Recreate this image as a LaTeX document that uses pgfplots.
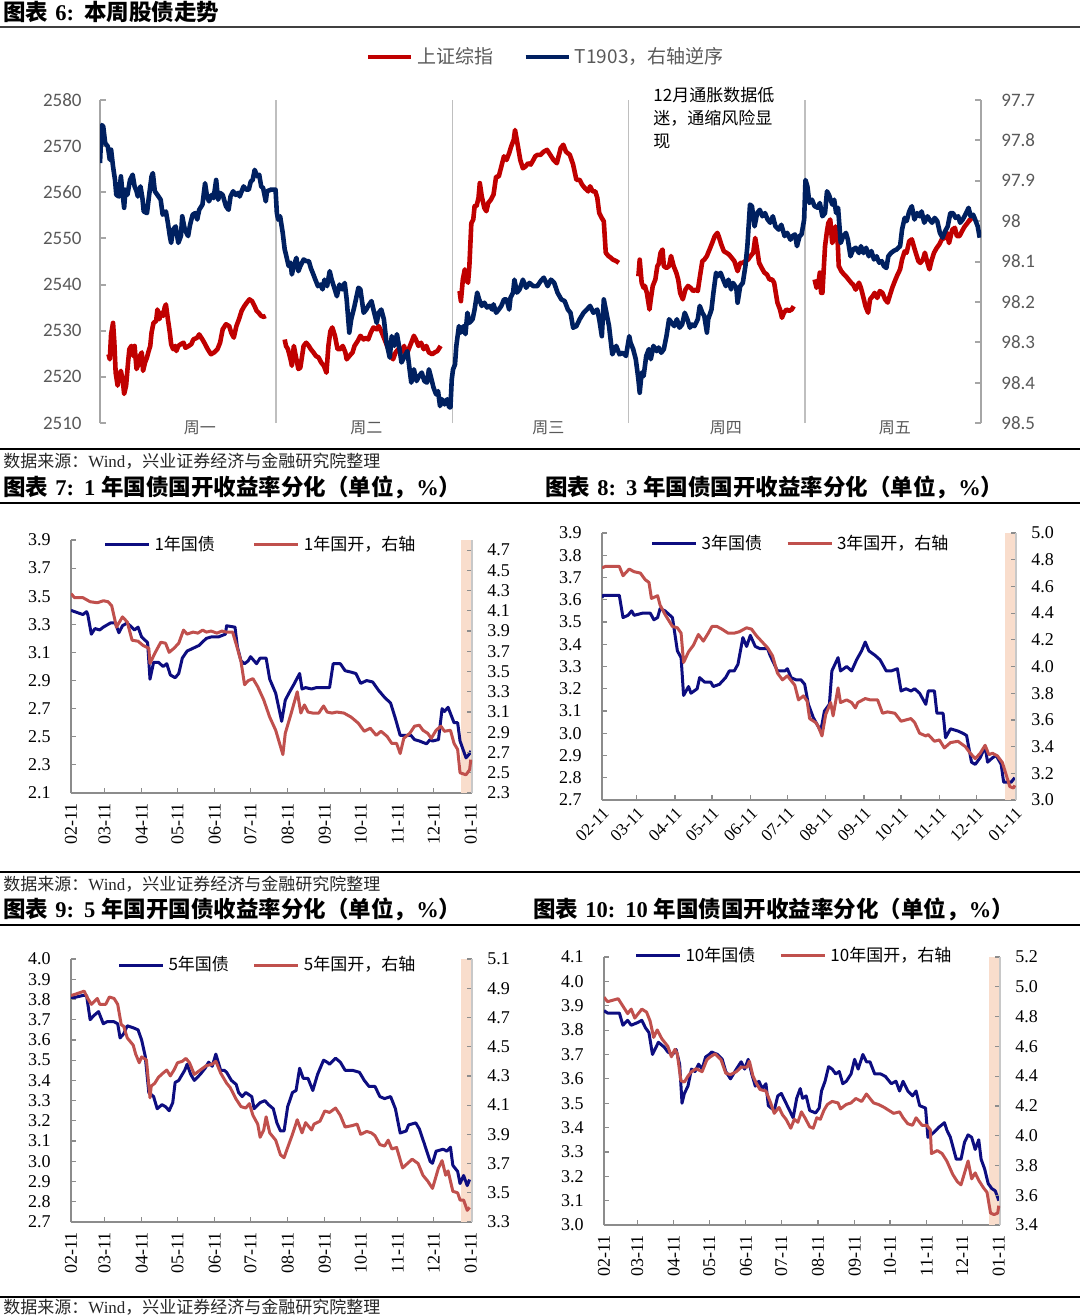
\documentclass[border=0pt]{standalone}
\usepackage{fontspec}
\setmainfont{Liberation Serif}
\newfontfamily\cjk{Noto Sans CJK SC}
\newfontfamily\carlito{Carlito}
\usepackage{pgfplots}
\pgfplotsset{compat=1.18}
\definecolor{sred}{HTML}{C00000}
\definecolor{sblue}{HTML}{002060}
\definecolor{nav}{HTML}{0D0D80}
\definecolor{rd}{HTML}{C0504D}
\definecolor{band}{HTML}{F9DDCC}
\definecolor{tg}{HTML}{595959}
\definecolor{axg}{HTML}{A6A6A6}
\definecolor{sepg}{HTML}{BFBFBF}
\definecolor{axg2}{HTML}{8C8C8C}
\definecolor{axg3}{HTML}{C8C8C8}
\pgfplotsset{
  bondbase/.style={
    scale only axis, anchor=south west,
    xmin=0, xmax=335,
    tick align=inside,
    major tick length=2.5pt,
    tick style={draw=axg2, line width=0.6pt},
    axis line style={draw=axg2, line width=0.75pt},
    tick label style={font=\fontsize{9}{9}\selectfont, inner sep=0pt},
    /pgf/number format/fixed, /pgf/number format/fixed zerofill,
    /pgf/number format/precision=1, /pgf/number format/assume math mode=true,
  },
  bondleft/.style={
    bondbase,
    axis x line*=bottom, axis y line*=left,
    xtick={0,28,59,89,120,150,181,212,242,273,303,334},
    xticklabels={02-11,03-11,04-11,05-11,06-11,07-11,08-11,09-11,10-11,11-11,12-11,01-11},
    yticklabel style={anchor=east, xshift=-10pt},
    legend style={draw=none, fill=none, font=\cjk\fontsize{8.5}{8.5}\selectfont, legend columns=2,
      /tikz/every even column/.append style={column sep=10pt}, anchor=center},
    legend image code/.code={\draw[#1] (0pt,0pt) -- (22pt,0pt);},
  },
  bondright/.style={
    bondbase,
    axis x line=none, axis y line*=right,
    y axis line style={draw=axg3},
    yticklabel style={anchor=west, xshift=7.5pt},
  },
}
\begin{document}
\begin{tikzpicture}
\path[use as bounding box] (0,0) rectangle (540pt,-658pt);
% ---------------- headers and rules ----------------
\node[anchor=west, inner sep=0pt, font=\fontsize{11.25}{11.25}\selectfont\bfseries] at (1.5pt,-6pt)
  {{\cjk 图表}\hspace{3.5pt}6:\hspace{5pt}{\cjk 本周股债走势}};
\draw[line width=1pt, black!75] (0,-13.5pt) -- (540pt,-13.5pt);
\draw[line width=0.75pt, black] (0,-224.5pt) -- (540pt,-224.5pt);
\node[anchor=west, inner sep=0pt, font=\fontsize{8.5}{8.5}\selectfont, text=black!85] at (1.5pt,-230.5pt)
  {{\cjk 数据来源：}Wind{\cjk ，兴业证券经济与金融研究院整理}};
\node[anchor=west, inner sep=0pt, font=\fontsize{11.25}{11.25}\selectfont\bfseries] at (1.5pt,-243.5pt)
  {{\cjk 图表}\hspace{3.5pt}7:\hspace{5pt}1\hspace{3pt}{\cjk 年国债国开收益率分化（单位，}\%{\cjk ）}};
\node[anchor=west, inner sep=0pt, font=\fontsize{11.25}{11.25}\selectfont\bfseries] at (272.5pt,-243.5pt)
  {{\cjk 图表}\hspace{3.5pt}8:\hspace{5pt}3\hspace{3pt}{\cjk 年国债国开收益率分化（单位，}\%{\cjk ）}};
\draw[line width=0.75pt, black] (0,-251.5pt) -- (540pt,-251.5pt);
\draw[line width=0.75pt, black] (0,-436pt) -- (540pt,-436pt);
\node[anchor=west, inner sep=0pt, font=\fontsize{8.5}{8.5}\selectfont, text=black!85] at (1.5pt,-442pt)
  {{\cjk 数据来源：}Wind{\cjk ，兴业证券经济与金融研究院整理}};
\node[anchor=west, inner sep=0pt, font=\fontsize{11.25}{11.25}\selectfont\bfseries] at (1.5pt,-454.5pt)
  {{\cjk 图表}\hspace{3.5pt}9:\hspace{5pt}5\hspace{3pt}{\cjk 年国开国债收益率分化（单位，}\%{\cjk ）}};
\node[anchor=west, inner sep=0pt, font=\fontsize{11.25}{11.25}\selectfont\bfseries] at (266.5pt,-454.5pt)
  {{\cjk 图表}\hspace{3.5pt}10:\hspace{5pt}10\hspace{3pt}{\cjk 年国债国开收益率分化（单位，}\%{\cjk ）}};
\draw[line width=0.75pt, black] (0,-462.5pt) -- (540pt,-462.5pt);
\draw[line width=0.75pt, black] (0,-648.5pt) -- (540pt,-648.5pt);
\node[anchor=west, inner sep=0pt, font=\fontsize{8.5}{8.5}\selectfont, text=black!85] at (1.5pt,-653.5pt)
  {{\cjk 数据来源：}Wind{\cjk ，兴业证券经济与金融研究院整理}};
\node[anchor=north west, inner sep=0pt, align=left, font=\cjk\fontsize{8.5}{11.5}\selectfont] at (326.5pt,-43.5pt)
  {12月通胀数据低\\迷，通缩风险显\\现};
% ---------------- Chart 6 ----------------
\begin{axis}[
  at={(50pt,-211.5pt)}, anchor=south west, scale only axis,
  width=440.5pt, height=161.5pt,
  xmin=0, xmax=1350, ymin=2510, ymax=2580,
  axis y line*=left, axis x line*=bottom,
  x axis line style={draw=none},
  y axis line style={draw=axg, line width=1pt},
  ytick={2510,2520,2530,2540,2550,2560,2570,2580},
  yticklabels={2510,2520,2530,2540,2550,2560,2570,2580},
  tick align=inside, major tick length=3pt,
  ytick style={draw=axg, line width=1pt},
  xtick={153,408,687,959,1218},
  xticklabels={周一,周二,周三,周四,周五},
  xtick style={draw=none},
  xticklabel style={font=\cjk\fontsize{8}{8}\selectfont, text=tg, anchor=north, inner sep=0pt, yshift=1.5pt},
  extra x ticks={270,540,810,1080},
  extra x tick labels={},
  extra x tick style={grid=major, major grid style={draw=sepg, line width=0.75pt}, tick style={draw=none}},
  yticklabel style={font=\carlito\fontsize{9.5}{9.5}\selectfont, text=tg, anchor=east, inner sep=0pt, xshift=-9pt},
  legend style={at={(0.507,1.133)}, anchor=center, draw=none, fill=none, legend columns=2,
    font=\cjk\fontsize{9.5}{9.5}\selectfont, nodes={text=tg},
    /tikz/every even column/.append style={column sep=13pt}},
  legend image code/.code={\draw[#1] (0pt,0pt) -- (21.5pt,0pt);},
]
\addplot[sred, line width=2.3pt, line join=round] coordinates {(13,2524.9)(15,2523.8)(17,2529.2)(20,2531.7)(22,2527.4)(24,2520.9)(27,2518.1)(29,2520.2)(32,2521.3)(35,2519.1)(37,2516.3)(40,2518.1)(43,2523.1)(45,2526.0)(48,2526.7)(51,2524.5)(53,2526.7)(56,2521.7)(58,2522.4)(61,2524.5)(64,2525.3)(66,2521.3)(69,2523.1)(72,2524.2)(74,2525.3)(77,2526.7)(79,2529.6)(82,2531.7)(86,2532.1)(88,2534.6)(91,2532.5)(94,2533.9)(97,2533.2)(99,2535.0)(101,2535.7)(104,2532.5)(107,2529.6)(109,2527.1)(112,2526.0)(115,2526.7)(117,2525.6)(120,2526.7)(124,2527.1)(128,2527.4)(131,2526.3)(136,2526.7)(140,2527.1)(143,2528.1)(149,2528.5)(152,2529.2)(157,2528.1)(161,2527.1)(165,2526.0)(170,2524.9)(175,2525.3)(180,2526.0)(184,2527.4)(188,2530.3)(193,2531.4)(198,2531.0)(201,2529.6)(205,2528.5)(209,2531.0)(213,2532.5)(217,2534.3)(221,2535.3)(225,2536.1)(229,2536.8)(233,2536.4)(237,2535.3)(240,2534.3)(243,2533.9)(247,2533.2)(251,2533.0)(254,2533.2)};
\addlegendentry{上证综指}
\addplot[sred, line width=2.3pt, line join=round, forget plot] coordinates {(283,2528.1)(285,2526.7)(288,2526.0)(292,2523.8)(294,2522.4)(297,2526.7)(301,2523.8)(304,2521.7)(307,2522.0)(312,2526.7)(316,2527.4)(320,2526.7)(323,2526.0)(327,2525.3)(331,2524.5)(335,2524.2)(339,2523.1)(343,2522.4)(347,2520.9)(350,2526.7)(353,2529.9)(356,2530.7)(360,2528.9)(364,2526.0)(368,2526.0)(372,2526.7)(376,2525.3)(378,2523.8)(382,2524.5)(387,2525.3)(390,2526.7)(395,2527.8)(399,2528.9)(404,2528.1)(408,2528.5)(411,2528.1)(415,2529.6)(419,2530.7)(424,2530.3)(427,2531.0)(431,2529.9)(435,2528.5)(440,2526.7)(446,2524.5)(449,2523.8)(453,2525.3)(457,2526.0)(461,2525.3)(466,2526.7)(469,2524.5)(473,2526.0)(477,2527.4)(481,2528.9)(484,2528.1)(488,2526.7)(492,2527.4)(496,2526.0)(500,2526.7)(504,2525.3)(509,2524.9)(513,2525.3)(517,2525.6)(522,2526.7)};
\addplot[sred, line width=2.3pt, line join=round, forget plot] coordinates {(551,2538.6)(553,2536.4)(556,2541.1)(559,2543.3)(561,2541.1)(564,2540.4)(566,2544.0)(569,2553.3)(572,2554.1)(574,2557.0)(577,2557.0)(580,2558.8)(582,2562.0)(585,2559.1)(589,2556.6)(592,2555.9)(595,2557.7)(599,2558.4)(603,2559.5)(607,2563.4)(611,2563.4)(615,2565.6)(619,2567.8)(623,2567.0)(627,2568.5)(630,2569.9)(634,2571.4)(636,2573.5)(640,2570.3)(644,2567.0)(648,2565.2)(652,2565.6)(656,2566.3)(660,2566.0)(664,2567.0)(667,2567.8)(670,2568.1)(675,2568.1)(680,2568.8)(685,2569.2)(690,2568.1)(695,2567.0)(700,2566.3)(706,2569.6)(710,2570.3)(714,2568.8)(720,2568.1)(725,2566.0)(730,2562.7)(735,2562.7)(739,2561.6)(743,2560.9)(748,2560.2)(751,2561.3)(755,2560.2)(759,2560.2)(762,2558.8)(765,2555.5)(769,2554.4)(772,2553.7)(775,2546.9)(779,2546.2)(783,2545.8)(786,2545.4)(791,2545.1)(795,2544.7)};
\addplot[sred, line width=2.3pt, line join=round, forget plot] coordinates {(825,2541.8)(827,2545.4)(830,2540.4)(833,2539.3)(835,2539.7)(838,2538.2)(842,2534.6)(844,2536.8)(847,2539.7)(851,2541.1)(854,2544.0)(856,2544.4)(859,2546.9)(862,2547.6)(864,2544.0)(868,2543.6)(872,2544.0)(875,2546.2)(879,2544.0)(883,2542.6)(886,2541.1)(889,2538.2)(893,2536.8)(897,2538.9)(901,2539.7)(905,2539.3)(909,2538.6)(913,2538.9)(916,2538.6)(919,2541.5)(923,2545.1)(926,2545.4)(930,2546.2)(934,2547.6)(938,2549.0)(942,2550.5)(946,2551.2)(948,2550.5)(952,2548.7)(956,2547.2)(960,2546.9)(964,2546.5)(968,2545.8)(972,2545.1)(977,2542.9)(981,2544.7)(985,2544.7)(989,2545.1)(993,2545.4)(997,2546.2)(1001,2546.9)(1004,2550.1)(1007,2547.6)(1010,2544.7)(1014,2543.6)(1018,2542.6)(1022,2542.2)(1026,2541.1)(1030,2541.1)(1033,2540.4)(1038,2536.1)(1042,2534.6)(1045,2532.8)(1048,2533.9)(1052,2534.6)(1056,2534.3)(1060,2534.6)(1063,2535.3)};
\addplot[sred, line width=2.3pt, line join=round, forget plot] coordinates {(1095,2541.1)(1098,2539.3)(1101,2540.4)(1103,2542.6)(1105,2538.2)(1107,2538.2)(1109,2543.3)(1111,2548.3)(1114,2551.6)(1116,2553.3)(1119,2554.1)(1122,2549.0)(1124,2549.8)(1127,2552.6)(1130,2550.5)(1132,2544.0)(1136,2542.9)(1140,2542.2)(1143,2541.8)(1147,2541.1)(1151,2540.4)(1154,2540.0)(1158,2538.9)(1163,2540.4)(1166,2539.3)(1170,2537.1)(1173,2535.3)(1177,2533.9)(1180,2536.8)(1184,2537.5)(1187,2538.2)(1191,2537.1)(1195,2538.6)(1199,2538.2)(1203,2536.8)(1207,2536.1)(1210,2537.5)(1214,2539.3)(1217,2540.4)(1221,2541.8)(1226,2543.3)(1229,2545.4)(1233,2547.2)(1236,2546.9)(1240,2549.4)(1244,2549.8)(1247,2548.3)(1250,2546.9)(1254,2545.1)(1257,2544.7)(1261,2545.4)(1264,2546.9)(1268,2544.7)(1271,2543.3)(1274,2545.1)(1278,2546.9)(1282,2547.9)(1286,2548.7)(1290,2549.8)(1294,2550.1)(1298,2551.2)(1301,2549.0)(1306,2551.9)(1310,2552.3)(1313,2550.5)(1317,2550.5)(1321,2551.6)(1325,2552.6)(1329,2553.3)(1333,2554.1)(1336,2553.7)};
\addlegendimage{sblue, line width=2.3pt}
\addlegendentry{T1903，右轴逆序}
\end{axis}
\begin{axis}[
  at={(50pt,-211.5pt)}, anchor=south west, scale only axis,
  width=440.5pt, height=161.5pt,
  xmin=0, xmax=1350, ymin=97.7, ymax=98.5, y dir=reverse,
  axis x line=none, axis y line*=right,
  y axis line style={draw=axg, line width=1pt},
  ytick={97.7,97.8,97.9,98,98.1,98.2,98.3,98.4,98.5},
  yticklabels={97.7,97.8,97.9,98,98.1,98.2,98.3,98.4,98.5},
  tick align=inside, major tick length=3pt,
  ytick style={draw=axg, line width=1pt},
  yticklabel style={font=\carlito\fontsize{9.5}{9.5}\selectfont, text=tg, anchor=west, inner sep=0pt, xshift=10pt},
]
\addplot[sblue, line width=2.3pt, line join=round] coordinates {(0,97.856)(2,97.782)(3,97.762)(5,97.766)(8,97.807)(12,97.815)(15,97.848)(17,97.823)(20,97.865)(23,97.898)(25,97.935)(29,97.939)(32,97.889)(34,97.922)(37,97.967)(39,97.922)(42,97.935)(46,97.898)(50,97.885)(53,97.914)(56,97.926)(58,97.939)(62,97.914)(65,97.943)(67,97.976)(72,97.980)(75,97.939)(79,97.889)(81,97.881)(84,97.926)(88,97.935)(93,97.947)(96,97.984)(101,97.976)(104,98.004)(107,98.037)(109,98.054)(112,98.021)(116,98.013)(120,98.054)(124,98.037)(126,97.988)(130,98.021)(135,98.037)(138,98.009)(142,97.984)(146,97.980)(149,97.996)(152,97.972)(157,97.959)(161,97.906)(164,97.939)(167,97.951)(171,97.935)(174,97.943)(178,97.898)(181,97.947)(184,97.930)(188,97.935)(193,97.963)(197,97.972)(200,97.939)(204,97.926)(208,97.935)(212,97.930)(214,97.939)(220,97.914)(224,97.922)(228,97.922)(231,97.902)(234,97.898)(237,97.873)(241,97.889)(244,97.885)(247,97.914)(250,97.918)(254,97.951)(256,97.926)(262,97.922)(267,97.922)(269,97.922)(271,97.980)(273,97.996)(276,97.988)(280,98.029)(283,98.070)(285,98.083)(289,98.111)(292,98.103)(294,98.132)(297,98.111)(301,98.091)(304,98.124)(307,98.111)(312,98.095)(316,98.099)(320,98.099)(323,98.116)(326,98.128)(330,98.145)(334,98.161)(338,98.157)(341,98.169)(344,98.145)(348,98.161)(352,98.124)(355,98.145)(359,98.165)(363,98.186)(367,98.157)(371,98.169)(375,98.153)(378,98.194)(382,98.276)(385,98.243)(390,98.210)(396,98.165)(399,98.169)(404,98.227)(408,98.219)(411,98.210)(416,98.198)(419,98.219)(424,98.252)(427,98.227)(431,98.219)(435,98.243)(439,98.301)(444,98.338)(447,98.285)(451,98.309)(455,98.280)(459,98.317)(462,98.350)(467,98.334)(471,98.322)(475,98.375)(477,98.400)(481,98.367)(485,98.396)(489,98.384)(493,98.375)(497,98.396)(501,98.400)(504,98.367)(508,98.392)(511,98.412)(515,98.429)(518,98.421)(521,98.458)(524,98.441)(528,98.454)(532,98.441)(535,98.461)(537,98.461)(539,98.392)(541,98.367)(544,98.355)(546,98.309)(550,98.260)(553,98.276)(557,98.260)(560,98.280)(563,98.227)(566,98.252)(571,98.243)(574,98.219)(578,98.177)(581,98.194)(585,98.210)(589,98.202)(593,98.214)(597,98.210)(601,98.219)(603,98.206)(607,98.227)(611,98.219)(615,98.210)(619,98.194)(623,98.194)(627,98.219)(629,98.190)(633,98.177)(635,98.145)(639,98.177)(643,98.169)(648,98.145)(653,98.165)(658,98.153)(664,98.161)(670,98.161)(675,98.149)(680,98.140)(686,98.161)(691,98.145)(696,98.153)(701,98.177)(707,98.194)(712,98.198)(717,98.219)(721,98.227)(725,98.264)(730,98.260)(735,98.243)(741,98.227)(746,98.219)(751,98.210)(756,98.227)(762,98.219)(765,98.243)(769,98.285)(772,98.194)(776,98.227)(780,98.260)(785,98.330)(791,98.309)(796,98.330)(801,98.326)(806,98.334)(811,98.285)(813,98.301)(817,98.317)(821,98.342)(825,98.392)(827,98.425)(830,98.375)(833,98.384)(837,98.334)(841,98.317)(844,98.342)(848,98.309)(853,98.322)(856,98.313)(860,98.326)(864,98.317)(868,98.285)(872,98.243)(876,98.252)(880,98.260)(884,98.243)(888,98.264)(892,98.256)(896,98.227)(900,98.243)(904,98.264)(907,98.256)(911,98.260)(916,98.243)(919,98.210)(923,98.227)(926,98.235)(930,98.276)(932,98.243)(937,98.219)(940,98.177)(944,98.128)(947,98.136)(951,98.128)(955,98.145)(959,98.161)(963,98.145)(967,98.169)(970,98.153)(975,98.165)(977,98.202)(981,98.161)(985,98.153)(989,98.111)(992,98.062)(996,97.959)(999,97.963)(1003,98.013)(1007,97.980)(1011,97.972)(1015,97.988)(1019,97.980)(1023,97.996)(1027,98.004)(1031,97.988)(1035,98.013)(1040,98.021)(1044,98.009)(1049,98.037)(1053,98.029)(1058,98.046)(1061,98.037)(1065,98.033)(1068,98.062)(1072,98.037)(1075,98.033)(1079,97.996)(1081,97.898)(1084,97.914)(1087,97.955)(1091,97.947)(1095,97.963)(1100,97.967)(1103,97.955)(1107,97.988)(1111,97.980)(1114,97.926)(1117,97.935)(1122,97.959)(1125,97.947)(1128,97.980)(1131,97.967)(1135,98.054)(1138,98.041)(1143,98.029)(1146,98.046)(1150,98.087)(1154,98.070)(1158,98.066)(1163,98.079)(1166,98.062)(1170,98.079)(1174,98.066)(1178,98.087)(1182,98.074)(1186,98.095)(1190,98.087)(1194,98.103)(1198,98.099)(1201,98.111)(1205,98.116)(1208,98.087)(1212,98.079)(1216,98.074)(1221,98.070)(1226,98.062)(1229,98.021)(1233,97.992)(1236,98.000)(1240,97.976)(1244,97.963)(1248,97.996)(1252,97.980)(1256,97.988)(1259,97.976)(1263,98.004)(1268,97.988)(1271,97.996)(1275,98.004)(1279,97.992)(1283,98.000)(1287,98.029)(1291,98.041)(1295,98.025)(1299,98.013)(1303,97.980)(1307,97.980)(1311,97.992)(1315,97.988)(1318,98.004)(1322,97.996)(1326,97.984)(1331,97.967)(1334,97.988)(1338,97.984)(1341,97.996)(1345,98.013)(1348,98.041)};
\end{axis}
% ---------------- Chart 7 ----------------
\begin{axis}[bondleft, at={(35.5pt,-396.5pt)}, width=200.5pt, height=126.5pt,
  ymin=2.1, ymax=3.9, ytick={2.1,2.3,2.5,2.7,2.9,3.1,3.3,3.5,3.7,3.9},
  xticklabel style={yshift=-5pt, rotate=90, anchor=east},
  legend style={at={(0.475,0.982)}, /tikz/every even column/.append style={column sep=17pt}}]
\addplot[draw=none, fill=band, forget plot] coordinates {(326,2.1)(335,2.1)(335,3.9)(326,3.9)};
\addplot[nav, line width=1.5pt, line join=round] coordinates {(0,3.40)(3,3.39)(10,3.37)(13,3.39)(14,3.37)(17,3.23)(20,3.27)(24,3.26)(27,3.28)(33,3.31)(37,3.31)(40,3.24)(43,3.29)(47,3.31)(53,3.26)(56,3.28)(59,3.21)(64,3.17)(66,2.91)(69,3.03)(73,3.03)(77,3.00)(80,3.02)(83,2.94)(87,2.92)(90,2.95)(93,3.06)(97,3.11)(102,3.13)(107,3.15)(113,3.20)(117,3.21)(123,3.21)(129,3.23)(130,3.29)(137,3.28)(139,3.14)(142,3.04)(145,3.02)(148,3.04)(150,3.07)(155,3.02)(158,3.06)(163,3.06)(166,2.91)(171,2.81)(176,2.61)(179,2.76)(182,2.81)(186,2.87)(191,2.95)(193,2.84)(196,2.85)(201,2.84)(205,2.85)(211,2.85)(216,2.85)(219,3.02)(225,3.02)(229,2.97)(234,2.96)(238,2.95)(242,2.88)(247,2.90)(252,2.89)(257,2.83)(262,2.78)(267,2.74)(271,2.63)(275,2.51)(280,2.51)(284,2.51)(287,2.48)(291,2.47)(297,2.45)(300,2.48)(302,2.47)(307,2.48)(310,2.70)(312,2.68)(315,2.71)(320,2.60)(323,2.60)(325,2.47)(330,2.35)(333,2.38)(334,2.40)};
\addlegendentry{1年国债}
\addlegendimage{rd, line width=1.5pt}
\addlegendentry{1年国开，右轴}
\end{axis}
\begin{axis}[bondright, at={(35.5pt,-396.5pt)}, width=200.5pt, height=126.5pt,
  ymin=2.3, ymax=4.8, ytick={2.3,2.5,2.7,2.9,3.1,3.3,3.5,3.7,3.9,4.1,4.3,4.5,4.7}]
\addplot[rd, line width=1.5pt, line join=round] coordinates {(0,4.27)(3,4.23)(10,4.23)(16,4.19)(22,4.18)(27,4.20)(31,4.19)(34,4.15)(38,3.94)(43,4.04)(47,3.99)(51,3.81)(56,3.80)(60,3.76)(65,3.73)(66,3.58)(70,3.68)(75,3.79)(79,3.78)(82,3.69)(86,3.73)(90,3.78)(94,3.91)(97,3.87)(102,3.89)(106,3.88)(110,3.91)(113,3.89)(117,3.90)(122,3.88)(126,3.90)(130,3.89)(135,3.89)(139,3.73)(142,3.60)(145,3.37)(148,3.41)(152,3.43)(156,3.35)(161,3.22)(166,3.05)(171,2.92)(175,2.76)(177,2.68)(179,2.89)(184,3.09)(189,3.30)(192,3.09)(195,3.17)(198,3.10)(202,3.09)(207,3.09)(211,3.16)(214,3.10)(218,3.09)(222,3.10)(228,3.09)(234,3.05)(240,2.99)(245,2.91)(250,2.94)(255,2.87)(259,2.91)(264,2.86)(268,2.79)(272,2.79)(275,2.69)(278,2.84)(283,2.89)(287,2.96)(291,2.97)(294,2.92)(298,2.89)(301,2.84)(305,2.92)(309,2.96)(312,2.91)(317,2.92)(320,2.79)(323,2.73)(325,2.50)(330,2.48)(333,2.53)(334,2.63)};
\end{axis}
% ---------------- Chart 8 ----------------
\begin{axis}[bondleft, at={(301pt,-400pt)}, width=207pt, height=133.5pt,
  ymin=2.7, ymax=3.9, ytick={2.7,2.8,2.9,3.0,3.1,3.2,3.3,3.4,3.5,3.6,3.7,3.8,3.9},
  xticklabel style={font=\fontsize{8.5}{8.5}\selectfont, yshift=-3pt, rotate=45, anchor=north east},
  legend style={at={(0.482,0.959)}}]
\addplot[draw=none, fill=band, forget plot] coordinates {(326,2.7)(335,2.7)(335,3.9)(326,3.9)};
\addplot[nav, line width=1.5pt, line join=round] coordinates {(0,3.61)(1,3.62)(14,3.62)(17,3.52)(21,3.53)(24,3.55)(26,3.53)(33,3.54)(39,3.54)(42,3.51)(45,3.52)(47,3.56)(51,3.55)(57,3.52)(61,3.37)(64,3.34)(66,3.17)(70,3.21)(72,3.18)(77,3.20)(79,3.25)(83,3.23)(88,3.23)(90,3.21)(95,3.22)(100,3.25)(103,3.28)(107,3.28)(110,3.31)(114,3.43)(117,3.39)(120,3.44)(124,3.39)(128,3.38)(134,3.38)(136,3.35)(142,3.28)(148,3.28)(150,3.29)(153,3.25)(157,3.24)(161,3.24)(164,3.22)(167,3.13)(171,3.07)(174,3.04)(177,3.01)(180,3.10)(184,3.13)(186,3.28)(191,3.34)(193,3.28)(198,3.30)(202,3.28)(206,3.33)(210,3.37)(213,3.41)(216,3.37)(221,3.35)(225,3.33)(230,3.28)(234,3.28)(239,3.29)(242,3.19)(246,3.20)(250,3.19)(253,3.20)(257,3.18)(262,3.13)(264,3.19)(269,3.19)(271,3.09)(276,3.09)(278,2.98)(282,3.02)(288,3.01)(292,3.00)(295,2.99)(299,2.87)(302,2.86)(306,2.89)(310,2.94)(312,2.87)(316,2.89)(319,2.90)(323,2.86)(325,2.78)(328,2.78)(331,2.78)(334,2.80)};
\addlegendentry{3年国债}
\addlegendimage{rd, line width=1.5pt}
\addlegendentry{3年国开，右轴}
\end{axis}
\begin{axis}[bondright, at={(301pt,-400pt)}, width=207pt, height=133.5pt,
  ymin=3.0, ymax=5.0, ytick={3.0,3.2,3.4,3.6,3.8,4.0,4.2,4.4,4.6,4.8,5.0}]
\addplot[rd, line width=1.5pt, line join=round] coordinates {(0,4.74)(3,4.75)(14,4.75)(17,4.68)(22,4.73)(26,4.71)(31,4.70)(35,4.65)(38,4.63)(40,4.51)(45,4.53)(47,4.46)(51,4.39)(57,4.30)(61,4.29)(64,4.25)(66,4.03)(70,4.11)(74,4.16)(78,4.24)(82,4.19)(86,4.25)(89,4.30)(93,4.30)(97,4.28)(102,4.25)(107,4.25)(111,4.26)(117,4.29)(121,4.28)(125,4.23)(129,4.19)(134,4.14)(138,4.08)(142,3.95)(146,3.90)(150,3.93)(156,3.86)(159,3.75)(163,3.78)(166,3.74)(168,3.61)(173,3.58)(175,3.55)(178,3.48)(181,3.64)(185,3.73)(187,3.63)(191,3.84)(193,3.73)(198,3.75)(202,3.73)(205,3.69)(207,3.73)(213,3.76)(217,3.75)(223,3.75)(227,3.65)(231,3.66)(237,3.65)(242,3.59)(246,3.60)(250,3.61)(253,3.58)(257,3.50)(262,3.48)(264,3.49)(269,3.44)(273,3.45)(277,3.39)(282,3.43)(288,3.44)(294,3.40)(298,3.35)(302,3.31)(306,3.35)(310,3.41)(313,3.34)(316,3.35)(320,3.33)(324,3.28)(327,3.19)(330,3.10)(333,3.09)(334,3.11)};
\end{axis}
% ---------------- Chart 9 ----------------
\begin{axis}[bondleft, at={(35.5pt,-611pt)}, width=200.5pt, height=131.5pt,
  ymin=2.7, ymax=4.0, ytick={2.7,2.8,2.9,3.0,3.1,3.2,3.3,3.4,3.5,3.6,3.7,3.8,3.9,4.0},
  xticklabel style={yshift=-5pt, rotate=90, anchor=east},
  legend style={at={(0.4925,0.977)}}]
\addplot[draw=none, fill=band, forget plot] coordinates {(326,2.7)(335,2.7)(335,4.0)(326,4.0)};
\addplot[nav, line width=1.5pt, line join=round] coordinates {(0,3.81)(3,3.81)(10,3.82)(13,3.82)(16,3.70)(19,3.72)(23,3.74)(27,3.68)(30,3.69)(36,3.69)(39,3.68)(41,3.61)(44,3.63)(47,3.67)(52,3.66)(56,3.65)(59,3.60)(62,3.52)(65,3.34)(69,3.32)(72,3.26)(76,3.28)(79,3.27)(82,3.25)(85,3.29)(87,3.39)(90,3.40)(95,3.45)(97,3.48)(100,3.43)(103,3.40)(108,3.43)(112,3.46)(115,3.49)(118,3.47)(121,3.53)(125,3.45)(128,3.45)(130,3.44)(134,3.40)(138,3.38)(140,3.34)(143,3.32)(146,3.34)(151,3.32)(153,3.26)(158,3.29)(162,3.30)(165,3.28)(169,3.26)(172,3.19)(175,3.15)(178,3.15)(181,3.27)(185,3.34)(188,3.35)(191,3.46)(194,3.41)(198,3.41)(202,3.35)(206,3.43)(211,3.50)(214,3.49)(216,3.48)(221,3.51)(225,3.49)(229,3.45)(235,3.45)(241,3.44)(245,3.40)(249,3.37)(254,3.37)(258,3.32)(262,3.31)(267,3.32)(271,3.26)(275,3.14)(280,3.15)(282,3.18)(288,3.19)(291,3.16)(295,3.09)(300,3.00)(302,2.99)(305,3.05)(311,3.06)(314,3.05)(317,3.07)(319,2.98)(323,2.95)(325,2.89)(328,2.93)(331,2.88)(333,2.91)};
\addlegendentry{5年国债}
\addlegendimage{rd, line width=1.5pt}
\addlegendentry{5年国开，右轴}
\end{axis}
\begin{axis}[bondright, at={(35.5pt,-611pt)}, width=200.5pt, height=131.5pt,
  ymin=3.3, ymax=5.1, ytick={3.3,3.5,3.7,3.9,4.1,4.3,4.5,4.7,4.9,5.1}]
\addplot[rd, line width=1.5pt, line join=round] coordinates {(0,4.85)(4,4.86)(11,4.88)(14,4.83)(17,4.79)(22,4.83)(24,4.79)(29,4.79)(32,4.84)(36,4.83)(39,4.79)(42,4.65)(44,4.64)(47,4.56)(52,4.51)(54,4.45)(57,4.39)(59,4.43)(63,4.41)(66,4.15)(67,4.23)(70,4.25)(73,4.29)(77,4.32)(80,4.34)(83,4.30)(86,4.34)(89,4.39)(93,4.40)(96,4.42)(99,4.39)(103,4.31)(108,4.34)(113,4.37)(118,4.38)(121,4.40)(125,4.32)(130,4.25)(133,4.22)(138,4.14)(142,4.09)(146,4.08)(149,4.11)(152,4.03)(156,3.97)(158,3.88)(161,3.93)(163,4.02)(166,3.91)(171,3.86)(175,3.76)(178,3.74)(181,3.81)(185,3.90)(189,4.00)(193,3.91)(196,3.98)(201,3.93)(203,3.97)(208,3.99)(212,4.06)(216,4.05)(221,4.08)(225,4.03)(229,3.95)(235,3.96)(239,3.97)(242,3.90)(247,3.92)(251,3.91)(254,3.89)(258,3.83)(262,3.82)(265,3.86)(268,3.80)(272,3.81)(277,3.67)(281,3.70)(285,3.73)(290,3.70)(294,3.62)(298,3.58)(302,3.53)(307,3.67)(310,3.72)(313,3.62)(315,3.65)(319,3.51)(323,3.50)(325,3.45)(328,3.45)(331,3.38)(333,3.40)};
\end{axis}
% ---------------- Chart 10 ----------------
\begin{axis}[bondleft, at={(302pt,-612.5pt)}, width=198pt, height=134pt,
  ymin=3.0, ymax=4.1, ytick={3.0,3.1,3.2,3.3,3.4,3.5,3.6,3.7,3.8,3.9,4.0,4.1},
  xticklabel style={yshift=-5pt, rotate=90, anchor=east},
  legend style={at={(0.482,1.004)}}]
\addplot[draw=none, fill=band, forget plot] coordinates {(326,3.0)(335,3.0)(335,4.1)(326,4.1)};
\addplot[nav, line width=1.5pt, line join=round] coordinates {(0,3.88)(3,3.87)(13,3.87)(16,3.82)(20,3.84)(23,3.82)(28,3.83)(32,3.84)(35,3.81)(38,3.79)(41,3.70)(44,3.73)(46,3.75)(51,3.73)(54,3.71)(58,3.70)(61,3.72)(64,3.66)(66,3.50)(68,3.54)(71,3.57)(74,3.64)(77,3.63)(80,3.66)(83,3.64)(86,3.69)(89,3.70)(91,3.71)(96,3.70)(100,3.68)(103,3.63)(107,3.60)(112,3.64)(116,3.67)(119,3.64)(122,3.68)(125,3.62)(128,3.57)(131,3.59)(134,3.56)(137,3.58)(139,3.49)(144,3.47)(147,3.53)(150,3.54)(154,3.50)(157,3.47)(160,3.44)(163,3.52)(166,3.56)(168,3.52)(171,3.53)(174,3.47)(179,3.46)(182,3.48)(184,3.55)(187,3.59)(190,3.65)(193,3.64)(196,3.62)(199,3.63)(202,3.58)(205,3.59)(209,3.62)(212,3.68)(215,3.64)(219,3.70)(222,3.67)(225,3.67)(229,3.62)(234,3.62)(238,3.61)(243,3.58)(247,3.59)(250,3.55)(253,3.59)(257,3.55)(261,3.53)(264,3.55)(267,3.49)(272,3.48)(274,3.36)(279,3.38)(283,3.40)(288,3.42)(290,3.39)(293,3.36)(298,3.27)(302,3.27)(305,3.34)(308,3.37)(311,3.36)(314,3.31)(317,3.35)(319,3.27)(322,3.23)(325,3.17)(328,3.15)(331,3.14)(334,3.10)};
\addlegendentry{10年国债}
\addlegendimage{rd, line width=1.5pt}
\addlegendentry{10年国开，右轴}
\end{axis}
\begin{axis}[bondright, at={(302pt,-612.5pt)}, width=198pt, height=134pt,
  ymin=3.4, ymax=5.2, ytick={3.4,3.6,3.8,4.0,4.2,4.4,4.6,4.8,5.0,5.2}]
\addplot[rd, line width=1.5pt, line join=round] coordinates {(0,4.93)(3,4.90)(12,4.92)(16,4.87)(20,4.82)(23,4.85)(26,4.79)(29,4.82)(32,4.85)(36,4.83)(39,4.77)(42,4.66)(45,4.71)(49,4.65)(54,4.60)(57,4.53)(60,4.58)(62,4.55)(65,4.37)(68,4.36)(71,4.40)(74,4.43)(78,4.45)(83,4.43)(87,4.51)(90,4.53)(94,4.55)(99,4.51)(103,4.42)(107,4.41)(112,4.43)(116,4.46)(121,4.46)(123,4.50)(126,4.40)(129,4.35)(132,4.31)(137,4.30)(141,4.22)(144,4.15)(148,4.19)(151,4.14)(154,4.11)(158,4.05)(161,4.11)(164,4.09)(167,4.16)(170,4.12)(174,4.06)(177,4.05)(180,4.12)(183,4.11)(186,4.17)(189,4.21)(193,4.23)(198,4.22)(200,4.18)(205,4.21)(209,4.22)(213,4.25)(218,4.23)(222,4.28)(225,4.25)(228,4.22)(232,4.21)(237,4.19)(241,4.17)(245,4.15)(250,4.16)(253,4.12)(257,4.08)(261,4.07)(264,4.12)(269,4.07)(273,4.07)(276,4.04)(277,3.88)(282,3.90)(286,3.88)(290,3.83)(295,3.74)(299,3.69)(302,3.67)(305,3.75)(308,3.83)(311,3.71)(314,3.75)(317,3.70)(321,3.65)(324,3.62)(327,3.48)(330,3.47)(333,3.48)(334,3.53)};
\end{axis}
\end{tikzpicture}
\end{document}
